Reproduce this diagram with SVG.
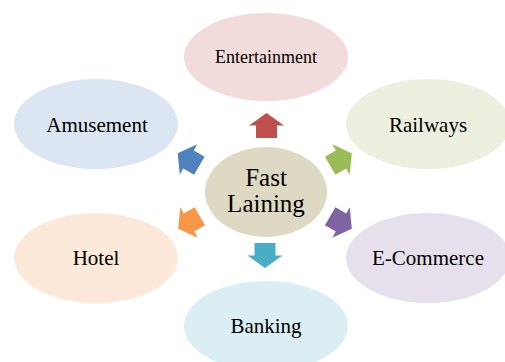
<svg xmlns="http://www.w3.org/2000/svg" width="505" height="362" viewBox="0 0 505 362">
<style>
text{fill:#000;text-anchor:middle}
.lbl{font-size:21px}
</style>
<defs>
<polygon id="arr" points="0,-12.5 17.5,0 10.5,0 10.5,12.5 -10.5,12.5 -10.5,0 -17.5,0"/>
</defs>
<rect width="505" height="362" fill="#fff"/>
<g font-family="'Liberation Serif', 'DejaVu Serif', serif">
<g id="n-entertainment"><ellipse cx="266" cy="57" rx="82" ry="44" fill="#F2DCDB"/><text x="266" y="63" font-size="18">Entertainment</text></g>
<g id="n-amusement"><ellipse cx="96" cy="124" rx="82" ry="45" fill="#DCE6F2"/><text class="lbl" x="97" y="132">Amusement</text></g>
<g id="n-railways"><ellipse cx="428" cy="124" rx="82" ry="45" fill="#EBF1DE"/><text class="lbl" x="428" y="132">Railways</text></g>
<g id="n-hotel"><ellipse cx="96" cy="258" rx="82" ry="45" fill="#FDE9D9"/><text class="lbl" x="96" y="265">Hotel</text></g>
<g id="n-ecommerce"><ellipse cx="428" cy="258" rx="82" ry="45" fill="#E5E0EC"/><text class="lbl" x="428" y="265">E-Commerce</text></g>
<g id="n-banking"><ellipse cx="266" cy="326" rx="82" ry="45" fill="#DBEEF3"/><text class="lbl" x="266" y="333">Banking</text></g>
<g id="n-center"><ellipse cx="266" cy="192" rx="61" ry="45" fill="#DDD9C3"/><text x="266" y="186" font-size="25">Fast</text><text x="266" y="212" font-size="25">Laining</text></g>
</g>
<g id="connectors">
<use href="#arr" transform="translate(266.5,125.5)" fill="#C0504D"/>
<use href="#arr" transform="translate(341,159.5) rotate(60)" fill="#9BBB59"/>
<use href="#arr" transform="translate(341,222.5) rotate(120)" fill="#8064A2"/>
<use href="#arr" transform="translate(265,255.5) rotate(180)" fill="#4BACC6"/>
<use href="#arr" transform="translate(189,222.5) rotate(240)" fill="#F79646"/>
<use href="#arr" transform="translate(188.5,159.5) rotate(300)" fill="#4F81BD"/>
</g>
</svg>
